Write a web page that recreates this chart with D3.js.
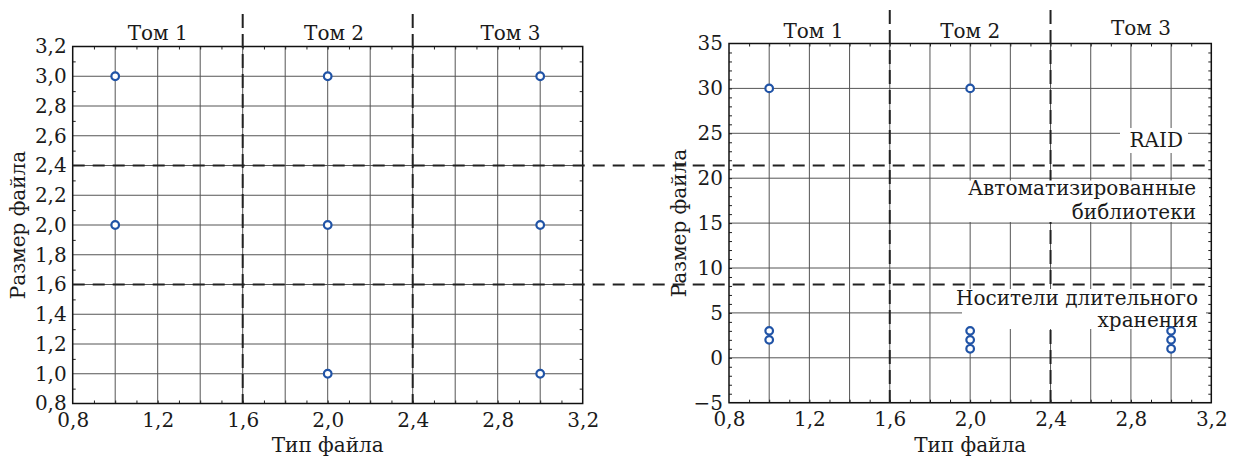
<!DOCTYPE html>
<html>
<head>
<meta charset="utf-8">
<script src="https://cdn.jsdelivr.net/npm/d3@7"></script>
<style>
  body { margin: 0; background: #fff; }
  svg { display: block; font-family: "DejaVu Serif", serif; }
  .tick text { fill: #1a1a1a; font-size: 20px; }
</style>
</head>
<body>
<svg id="chart" width="1239" height="459"></svg>
<script>
// data
var fileTypesLeft = [1, 1, 2, 2, 2, 3, 3, 3];
var fileSizesLeft = [3, 2, 3, 2, 1, 3, 2, 1];
var fileTypesRight = [1, 1, 1, 2, 2, 2, 2, 3, 3, 3];
var fileSizesRight = [30, 3, 2, 30, 3, 2, 1, 3, 2, 1];

var volumeNames = ['Том 1', 'Том 2', 'Том 3'];
var volumeBounds = [1.6, 2.4];
var sizeBounds = [1.6, 2.4];
var storageNames = [['RAID'], ['Автоматизированные', 'библиотеки'], ['Носители длительного', 'хранения']];

var xTicks = [0.8, 1.2, 1.6, 2.0, 2.4, 2.8, 3.2];
var yTicksLeft = [0.8, 1.0, 1.2, 1.4, 1.6, 1.8, 2.0, 2.2, 2.4, 2.6, 2.8, 3.0, 3.2];
var yTicksRight = [-5, 0, 5, 10, 15, 20, 25, 30, 35];

var svg = d3.select('#chart');
var comma = function(d) { return d3.format('.1f')(d).replace('.', ','); };

var gridX = d3.range(10, 31, 2).map(function(d) { return d / 10; });
var minorX = d3.range(9, 32, 1).map(function(d) { return d / 10; });

// one panel: box, grid, dashed volume bounds, ticks, labels
function drawPanel(p) {
	var x = d3.scaleLinear().domain([0.8, 3.2]).range([p.left, p.left + p.width]);
	var y = d3.scaleLinear().domain(p.yDomain).range([p.top + p.height, p.top]);
	var g = svg.append('g');

	// grid
	g.append('g').selectAll('line').data(gridX).enter().append('line')
		.attr('x1', x).attr('x2', x)
		.attr('y1', p.top).attr('y2', p.top + p.height)
		.attr('stroke', '#555').attr('stroke-width', 1);
	g.append('g').selectAll('line').data(p.yTicks).enter().append('line')
		.attr('x1', p.left).attr('x2', p.left + p.width)
		.attr('y1', y).attr('y2', y)
		.attr('stroke', '#555').attr('stroke-width', 1);

	// minor ticks (inside)
	var noDomain = function(a) { a.select('.domain').remove(); a.selectAll('line').attr('stroke', '#222'); };
	g.append('g').attr('transform', 'translate(0,' + (p.top + p.height) + ')')
		.call(d3.axisBottom(x).tickValues(minorX).tickSize(-3).tickFormat(''))
		.call(noDomain);
	g.append('g').attr('transform', 'translate(0,' + p.top + ')')
		.call(d3.axisTop(x).tickValues(minorX).tickSize(-3).tickFormat(''))
		.call(noDomain);
	g.append('g').attr('transform', 'translate(' + p.left + ',0)')
		.call(d3.axisLeft(y).tickValues(p.yMinor).tickSize(-3).tickFormat(''))
		.call(noDomain);
	g.append('g').attr('transform', 'translate(' + (p.left + p.width) + ',0)')
		.call(d3.axisRight(y).tickValues(p.yMinor).tickSize(-3).tickFormat(''))
		.call(noDomain);

	// tick labels
	var serif = function(a) { a.select('.domain').remove(); a.selectAll('text').attr('font-family', 'DejaVu Serif'); };
	g.append('g').attr('transform', 'translate(0,' + (p.top + p.height) + ')')
		.call(d3.axisBottom(x).tickValues(xTicks).tickSize(0).tickPadding(p.xPad).tickFormat(comma))
		.call(serif);
	g.append('g').attr('transform', 'translate(' + p.left + ',0)')
		.call(d3.axisLeft(y).tickValues(p.yTicks).tickSize(0).tickPadding(6).tickFormat(p.yFormat))
		.call(serif);

	// frame
	g.append('rect')
		.attr('x', p.left).attr('y', p.top)
		.attr('width', p.width).attr('height', p.height)
		.attr('fill', 'none').attr('stroke', '#111').attr('stroke-width', 1.5);

	// volume bounds
	g.append('g').selectAll('line').data(volumeBounds).enter().append('line')
		.attr('x1', x).attr('x2', x)
		.attr('y1', p.dashTop).attr('y2', p.top + p.height)
		.attr('stroke', '#222').attr('stroke-width', 2)
		.attr('stroke-dasharray', '14,6');

	// volume names
	g.append('g').selectAll('text').data(volumeNames).enter().append('text')
		.attr('x', function(d, i) { return x(p.volX[i]); })
		.attr('y', function(d, i) { return p.volY[i]; })
		.attr('text-anchor', 'middle')
		.attr('font-size', 20).attr('fill', '#1a1a1a')
		.text(function(d) { return d; });

	// axis titles
	g.append('text')
		.attr('x', p.left + p.width / 2).attr('y', 452)
		.attr('text-anchor', 'middle').attr('font-size', 20).attr('fill', '#1a1a1a')
		.text('Тип файла');
	g.append('text')
		.attr('transform', 'translate(' + p.yTitleX + ',' + (p.top + p.height / 2) + ') rotate(-90)')
		.attr('text-anchor', 'middle').attr('font-size', 20).attr('fill', '#1a1a1a')
		.text('Размер файла');

	return {x: x, y: y, g: g};
}

var left = drawPanel({
	left: 72.7, top: 46.5, width: 510, height: 357,
	yDomain: [0.8, 3.2], yTicks: yTicksLeft, yFormat: comma,
	yMinor: d3.range(9, 32, 2).map(function(d) { return d / 10; }),
	xPad: 9.5, dashTop: 14, yTitleX: 25,
	volX: [1.2, 2.03, 2.86], volY: [39.5, 39.5, 39.5]
});

var right = drawPanel({
	left: 729, top: 43.5, width: 482.3, height: 359.2,
	yDomain: [-5, 35], yTicks: yTicksRight, yFormat: d3.format('d'),
	yMinor: d3.range(-4, 35, 1),
	xPad: 9.5, dashTop: 10, yTitleX: 686,
	volX: [1.22, 2.0, 2.85], volY: [38, 38, 34.5]
});

// storage level labels on white boxes (right panel)
var boxes = [
	{x0: 1120, x1: 1188, y0: 128, y1: 153, tx: 1183, ty: [146.5]},
	{x0: 968, x1: 1209, y0: 180.5, y1: 222, tx: 1196, ty: [195, 218.5]},
	{x0: 962, x1: 1206, y0: 289, y1: 329, tx: 1198, ty: [304.5, 326.5]}
];
boxes.forEach(function(b, i) {
	right.g.append('rect')
		.attr('x', b.x0).attr('y', b.y0)
		.attr('width', b.x1 - b.x0).attr('height', b.y1 - b.y0)
		.attr('fill', '#fff');
	storageNames[i].forEach(function(line, j) {
		right.g.append('text')
			.attr('x', b.tx).attr('y', b.ty[j])
			.attr('text-anchor', 'end').attr('font-size', 20).attr('fill', '#1a1a1a')
			.text(line);
	});
});

// size bounds: dashed lines running across both panels
svg.append('g').selectAll('line').data(sizeBounds).enter().append('line')
	.attr('x1', 72.7).attr('x2', 1211.3)
	.attr('y1', left.y).attr('y2', left.y)
	.attr('stroke', '#222').attr('stroke-width', 2)
	.attr('stroke-dasharray', '12,8');

// points
function drawPoints(panel, xs, ys) {
	panel.g.append('g').selectAll('circle').data(xs).enter().append('circle')
		.attr('cx', function(d) { return panel.x(d); })
		.attr('cy', function(d, i) { return panel.y(ys[i]); })
		.attr('r', 3.8)
		.attr('fill', '#fff')
		.attr('stroke', '#2053a6')
		.attr('stroke-width', 2.2);
}
drawPoints(left, fileTypesLeft, fileSizesLeft);
drawPoints(right, fileTypesRight, fileSizesRight);
</script>
</body>
</html>
